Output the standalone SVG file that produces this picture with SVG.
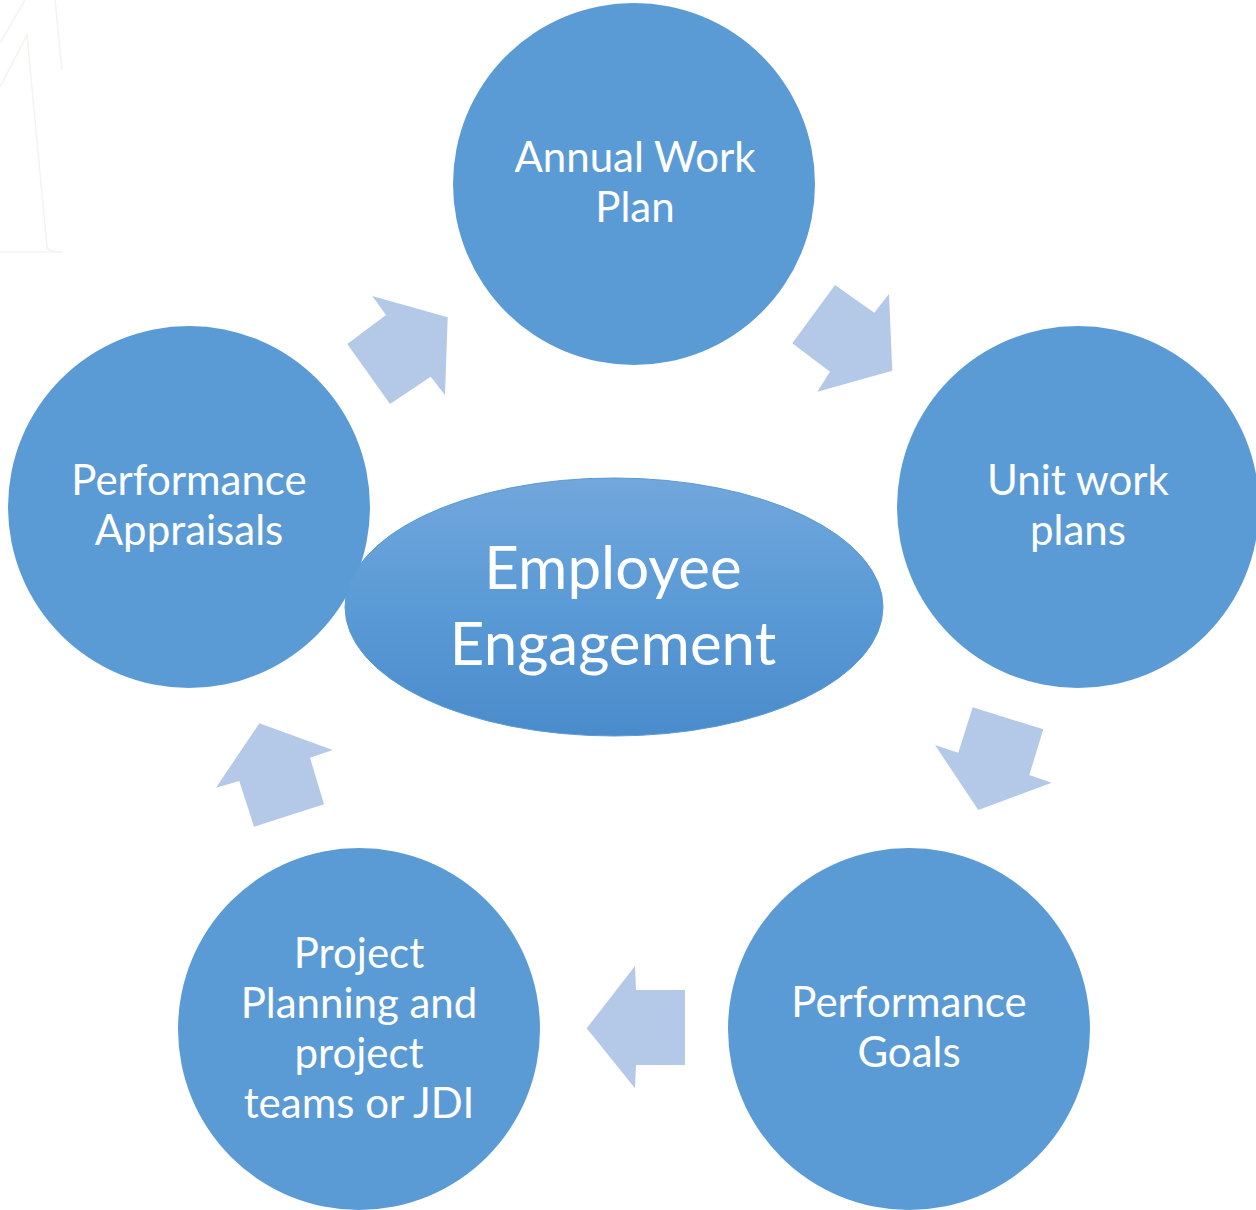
<svg xmlns="http://www.w3.org/2000/svg" width="1256" height="1210" viewBox="0 0 1256 1210">
  <defs>
    <linearGradient id="eg" x1="0" y1="0" x2="0" y2="1">
      <stop offset="0" stop-color="#72a7dc"/>
      <stop offset="0.5" stop-color="#5a9ad6"/>
      <stop offset="1" stop-color="#4a8bcb"/>
    </linearGradient>
    <style>
      .c { fill: #5b9bd5; }
      .a { fill: #b4c8e7; }
      .t { fill: #ffffff; font-family: Lato, "Open Sans", sans-serif; font-size: 42px; text-anchor: middle; }
      .tb { fill: #ffffff; font-family: Lato, "Open Sans", sans-serif; font-size: 60px; text-anchor: middle; }
      .faint { fill: none; stroke: #f3f3ef; stroke-width: 1.5; }
    </style>
  </defs>
  <rect width="1256" height="1210" fill="#ffffff"/>
  <path class="faint" d="M25,0 L0,43 M55,0 L62,70 M0,87 L27,35 L47,247 Q48,252 62,252 L0,252"/>

  <g id="connectors">
    <polygon class="a" points="372.3,296 447.7,317.3 445,395 430.7,376.7 390,404 347.3,344 386,315"/>
    <polygon class="a" points="835,285 874.3,312.7 889,294 892.3,370.7 817.3,391.7 830,371.7 792.3,343.3"/>
    <polygon class="a" points="972.7,707.3 1043.3,729.3 1029.3,775 1051.7,782.7 978.3,810 935,745 958.3,752.7"/>
    <polygon class="a" points="685,990 636,990 635,966 586.7,1028.3 635,1088.3 636,1065 685,1065"/>
    <polygon class="a" points="259.3,723.3 332.7,750 310,757.7 324,804.3 254,826.7 239.3,781 216,787.7"/>
  </g>

  <g id="annual-work-plan">
    <circle class="c" cx="634" cy="184" r="181"/>
    <text class="t" x="635" y="172">Annual Work</text>
    <text class="t" x="635" y="222">Plan</text>
  </g>
  <g id="unit-work-plans">
    <circle class="c" cx="1078" cy="507" r="181"/>
    <text class="t" x="1078" y="495">Unit work</text>
    <text class="t" x="1078" y="545">plans</text>
  </g>
  <g id="performance-goals">
    <circle class="c" cx="909" cy="1029" r="181"/>
    <text class="t" x="909" y="1017">Performance</text>
    <text class="t" x="909" y="1067">Goals</text>
  </g>
  <g id="project-planning">
    <circle class="c" cx="359" cy="1029" r="181"/>
    <text class="t" x="359" y="968">Project</text>
    <text class="t" x="359" y="1018">Planning and</text>
    <text class="t" x="359" y="1068">project</text>
    <text class="t" x="359" y="1118">teams or JDI</text>
  </g>
  <g id="performance-appraisals">
    <circle class="c" cx="189" cy="507" r="181"/>
    <text class="t" x="189" y="495">Performance</text>
    <text class="t" x="189" y="545">Appraisals</text>
  </g>
  <g id="employee-engagement">
    <ellipse cx="614" cy="607" rx="269" ry="129" fill="url(#eg)" stroke="#5b9bd5" stroke-width="1"/>
    <text class="tb" x="613" y="589">Employee</text>
    <text class="tb" x="613" y="665">Engagement</text>
  </g>
</svg>
